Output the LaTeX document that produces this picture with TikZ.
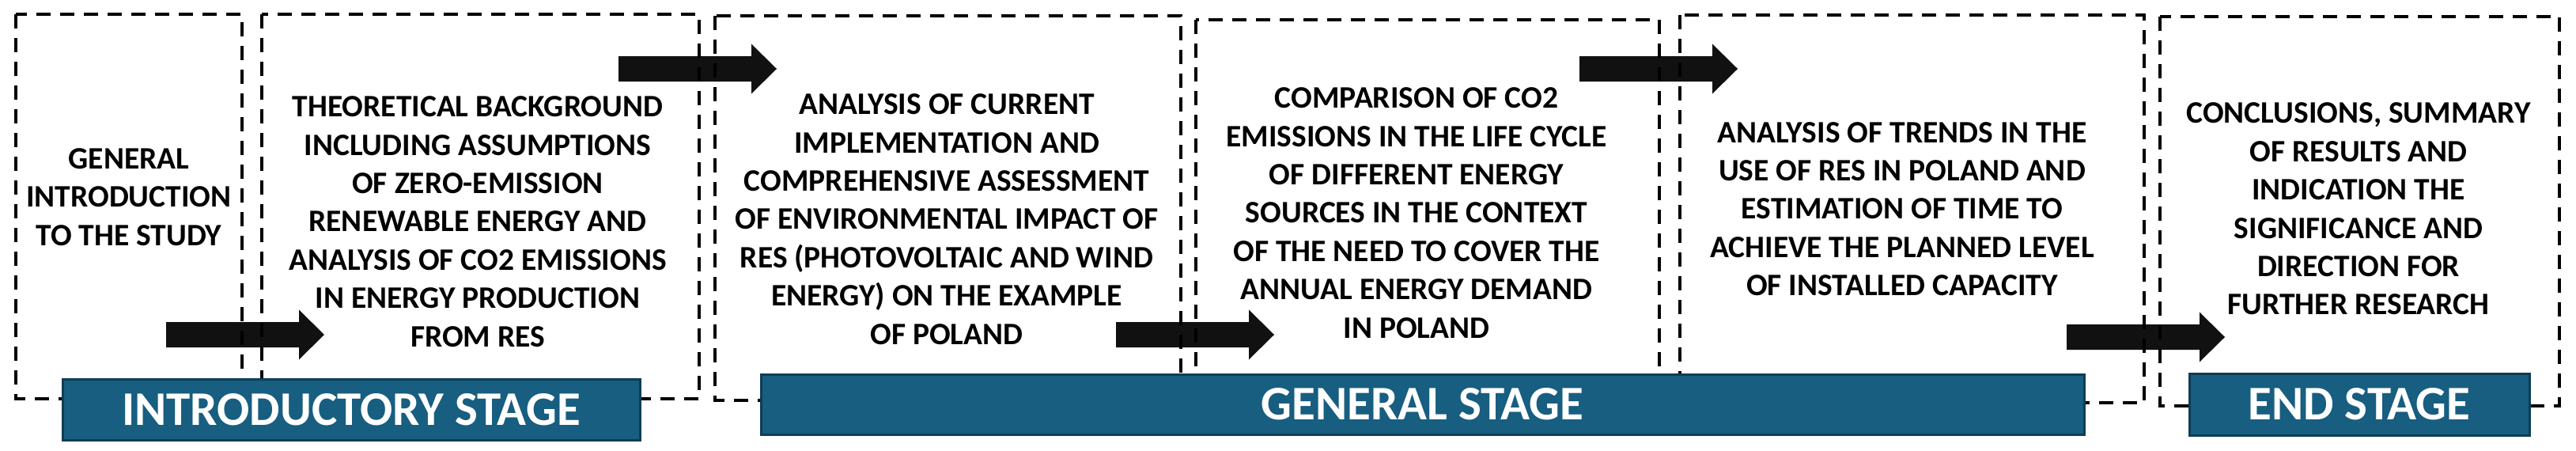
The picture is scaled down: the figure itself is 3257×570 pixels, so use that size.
\documentclass[tikz,border=0pt]{standalone}
\usepackage{fontspec}
\setmainfont{Carlito}
\definecolor{stagefill}{HTML}{175E80}
\definecolor{stageedge}{HTML}{0E3D54}
\definecolor{arrowblack}{HTML}{111111}
\begin{document}
\begin{tikzpicture}[x=1pt,y=-1pt,
  dashbox/.style={draw=black,line width=4pt,dash pattern=on 18pt off 12pt},
  stagebar/.style={rectangle,fill=stagefill,draw=stageedge,line width=3pt,inner sep=0pt,
     text=white,font=\fontsize{61}{62}\selectfont\bfseries},
  bodytext/.style={align=center,inner sep=0pt,font=\fontsize{39.5}{48.4}\selectfont\bfseries},
  blockarr/.pic={\fill[arrowblack] (0,-16)--(168,-16)--(168,-31.5)--(200,0)--(168,31.5)--(168,16)--(0,16)--cycle;}
]
\useasboundingbox (0,0) rectangle (3257,570);
% arrows (under the dashed frames)
\pic at (210,423) {blockarr};
\pic at (782,87) {blockarr};
\pic at (1411,423) {blockarr};
\pic at (1997,87) {blockarr};
\pic at (2613,426) {blockarr};
% dashed frames
\draw[dashbox] (20,18) rectangle (306,504);
\draw[dashbox] (331,18) rectangle (884,504);
\draw[dashbox] (904,20) rectangle (1493,506);
\draw[dashbox] (1512,25) rectangle (2098,506);
\draw[dashbox] (2124,19) rectangle (2711,509);
\draw[dashbox] (2731,21) rectangle (3236,513);
% texts
\node[bodytext] (t1) at (163,249) {GENERAL\\INTRODUCTION\\TO THE STUDY};
\node[bodytext] (t2) at (604,280) {THEORETICAL BACKGROUND\\INCLUDING ASSUMPTIONS\\OF ZERO-EMISSION\\RENEWABLE ENERGY AND\\ANALYSIS OF CO2 EMISSIONS\\IN ENERGY PRODUCTION\\FROM RES};
\node[bodytext] (t3) at (1197,277) {ANALYSIS OF CURRENT\\IMPLEMENTATION AND\\COMPREHENSIVE ASSESSMENT\\OF ENVIRONMENTAL IMPACT OF\\RES (PHOTOVOLTAIC AND WIND\\ENERGY) ON THE EXAMPLE\\OF POLAND};
\node[bodytext] (t4) at (1791,269) {COMPARISON OF CO2\\EMISSIONS IN THE LIFE CYCLE\\OF DIFFERENT ENERGY\\SOURCES IN THE CONTEXT\\OF THE NEED TO COVER THE\\ANNUAL ENERGY DEMAND\\IN POLAND};
\node[bodytext] (t5) at (2405,264) {ANALYSIS OF TRENDS IN THE\\USE OF RES IN POLAND AND\\ESTIMATION OF TIME TO\\ACHIEVE THE PLANNED LEVEL\\OF INSTALLED CAPACITY};
\node[bodytext] (t6) at (2982,264) {CONCLUSIONS, SUMMARY\\OF RESULTS AND\\INDICATION THE\\SIGNIFICANCE AND\\DIRECTION FOR\\FURTHER RESEARCH};
% stage bars
\node[stagebar,minimum width=730pt,minimum height=77pt] (s1) at (444,517.5) {INTRODUCTORY STAGE};
\node[stagebar,minimum width=1673pt,minimum height=76pt] (s2) at (1798.5,511) {GENERAL STAGE};
\node[stagebar,minimum width=430pt,minimum height=78pt] (s3) at (2983,511) {END STAGE};
\end{tikzpicture}
\end{document}
